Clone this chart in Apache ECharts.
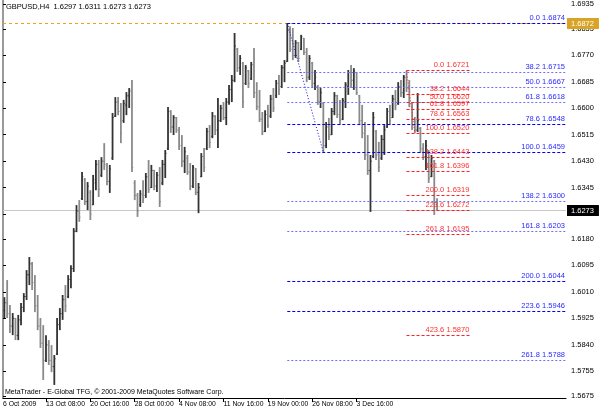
<!DOCTYPE html>
<html><head><meta charset="utf-8">
<script src="https://cdn.jsdelivr.net/npm/echarts@6/dist/echarts.min.js"></script>
<style>html,body{margin:0;padding:0;background:#fff}#c{width:600px;height:414px}</style>
</head><body><div id="c"></div>
<script>
const symbolName = 'GBPUSD,H4';
const copyright = 'MetaTrader - E-Global TFG, \u00a9 2001-2009 MetaQuotes Software Corp.';

const opens = [
1.5950,1.5975,1.5940,1.5900,1.5925,1.5870,1.5920,1.5960,1.5995,1.6065,
1.6100,1.6040,1.5965,1.5900,1.5845,1.5790,1.5840,1.5790,1.5770,1.5810,
1.5905,1.5940,1.5985,1.5995,1.6050,1.6085,1.6205,1.6270,1.6310,1.6370,
1.6300,1.6330,1.6290,1.6360,1.6420,1.6385,1.6430,1.6415,1.6365,1.6440,
1.6575,1.6620,1.6590,1.6560,1.6610,1.6640,1.6660,1.6360,1.6320,1.6290,
1.6320,1.6320,1.6380,1.6345,1.6400,1.6350,1.6385,1.6360,1.6420,1.6470,
1.6590,1.6540,1.6570,1.6530,1.6480,1.6430,1.6440,1.6395,1.6350,1.6405,
1.6330,1.6380,1.6445,1.6470,1.6525,1.6510,1.6575,1.6530,1.6560,1.6600,
1.6570,1.6620,1.6660,1.6690,1.6790,1.6730,1.6745,1.6680,1.6720,1.6695,
1.6740,1.6650,1.6605,1.6565,1.6525,1.6580,1.6575,1.6630,1.6640,1.6680,
1.6670,1.6730,1.6750,1.6850,1.6790,1.6770,1.6810,1.6790,1.6825,1.6780,
1.6700,1.6745,1.6680,1.6670,1.6620,1.6615,1.6480,1.6540,1.6515,1.6590,
1.6640,1.6580,1.6565,1.6620,1.6670,1.6715,1.6690,1.6715,1.6640,1.6560,
1.6520,1.6450,1.6400,1.6445,1.6525,1.6450,1.6440,1.6500,1.6540,1.6590,
1.6570,1.6630,1.6615,1.6670,1.6650,1.6700,1.6665,1.6615,1.6545,1.6530,
1.6535,1.6470,1.6445,1.6460,1.6380,1.6430,1.6297];
const highs = [
1.5993,1.6048,1.5968,1.5942,1.5926,1.5936,1.5974,1.6006,1.6080,1.6122,
1.6106,1.6064,1.6000,1.5926,1.5903,1.5871,1.5855,1.5839,1.5807,1.5926,
1.5958,1.6000,1.6032,1.6064,1.6096,1.6215,1.6289,1.6305,1.6395,1.6376,
1.6363,1.6337,1.6386,1.6434,1.6434,1.6443,1.6488,1.6424,1.6418,1.6585,
1.6636,1.6636,1.6617,1.6627,1.6652,1.6665,1.6691,1.6369,1.6328,1.6337,
1.6369,1.6392,1.6434,1.6418,1.6402,1.6395,1.6411,1.6434,1.6466,1.6604,
1.6594,1.6578,1.6572,1.6540,1.6514,1.6476,1.6450,1.6424,1.6418,1.6408,
1.6360,1.6456,1.6472,1.6537,1.6546,1.6588,1.6578,1.6633,1.6611,1.6620,
1.6633,1.6675,1.6707,1.6842,1.6794,1.6771,1.6749,1.6739,1.6723,1.6749,
1.6794,1.6684,1.6659,1.6588,1.6594,1.6611,1.6643,1.6665,1.6691,1.6707,
1.6739,1.6755,1.6874,1.6864,1.6858,1.6819,1.6813,1.6836,1.6826,1.6794,
1.6771,1.6749,1.6723,1.6675,1.6665,1.6620,1.6556,1.6569,1.6601,1.6652,
1.6643,1.6627,1.6633,1.6684,1.6723,1.6739,1.6729,1.6717,1.6643,1.6611,
1.6556,1.6514,1.6450,1.6588,1.6530,1.6492,1.6514,1.6546,1.6601,1.6611,
1.6643,1.6659,1.6684,1.6691,1.6707,1.6721,1.6691,1.6617,1.6572,1.6649,
1.6540,1.6488,1.6498,1.6466,1.6450,1.6434,1.6311];
const lows = [
1.5926,1.5926,1.5878,1.5871,1.5855,1.5855,1.5903,1.5945,1.5984,1.6032,
1.6016,1.5945,1.5887,1.5830,1.5727,1.5785,1.5775,1.5752,1.5711,1.5807,
1.5887,1.5920,1.5945,1.5990,1.6022,1.6074,1.6202,1.6235,1.6305,1.6289,
1.6273,1.6241,1.6289,1.6337,1.6315,1.6379,1.6402,1.6353,1.6328,1.6434,
1.6572,1.6578,1.6488,1.6553,1.6578,1.6601,1.6395,1.6305,1.6251,1.6283,
1.6296,1.6312,1.6328,1.6344,1.6337,1.6331,1.6283,1.6353,1.6376,1.6466,
1.6521,1.6514,1.6521,1.6466,1.6411,1.6392,1.6386,1.6337,1.6344,1.6321,
1.6263,1.6379,1.6395,1.6466,1.6472,1.6504,1.6514,1.6472,1.6556,1.6562,
1.6546,1.6611,1.6620,1.6684,1.6717,1.6707,1.6601,1.6675,1.6665,1.6691,
1.6633,1.6594,1.6556,1.6514,1.6524,1.6537,1.6569,1.6588,1.6633,1.6643,
1.6665,1.6684,1.6749,1.6781,1.6755,1.6762,1.6749,1.6787,1.6771,1.6684,
1.6691,1.6665,1.6659,1.6611,1.6601,1.6459,1.6472,1.6498,1.6514,1.6578,
1.6569,1.6546,1.6562,1.6601,1.6643,1.6665,1.6659,1.6643,1.6546,1.6504,
1.6434,1.6386,1.6267,1.6440,1.6434,1.6395,1.6434,1.6450,1.6537,1.6546,
1.6569,1.6594,1.6611,1.6636,1.6633,1.6652,1.6604,1.6530,1.6520,1.6524,
1.6456,1.6434,1.6402,1.6360,1.6379,1.6257,1.6273];
const closes = [
1.5975,1.5940,1.5900,1.5925,1.5870,1.5920,1.5960,1.5995,1.6065,1.6100,
1.6040,1.5965,1.5900,1.5845,1.5790,1.5840,1.5790,1.5770,1.5795,1.5905,
1.5940,1.5985,1.5965,1.6050,1.6085,1.6205,1.6270,1.6250,1.6380,1.6300,
1.6350,1.6260,1.6370,1.6420,1.6340,1.6430,1.6420,1.6365,1.6405,1.6570,
1.6620,1.6590,1.6520,1.6615,1.6640,1.6655,1.6410,1.6320,1.6270,1.6325,
1.6310,1.6380,1.6340,1.6400,1.6350,1.6385,1.6300,1.6420,1.6455,1.6590,
1.6540,1.6570,1.6530,1.6480,1.6430,1.6460,1.6395,1.6350,1.6410,1.6330,
1.6345,1.6445,1.6410,1.6525,1.6490,1.6575,1.6530,1.6560,1.6600,1.6570,
1.6620,1.6660,1.6690,1.6800,1.6730,1.6760,1.6620,1.6730,1.6680,1.6740,
1.6650,1.6605,1.6565,1.6525,1.6580,1.6545,1.6630,1.6600,1.6680,1.6660,
1.6730,1.6745,1.6850,1.6790,1.6770,1.6810,1.6760,1.6830,1.6780,1.6700,
1.6760,1.6680,1.6700,1.6620,1.6650,1.6480,1.6540,1.6510,1.6590,1.6640,
1.6580,1.6560,1.6625,1.6675,1.6715,1.6690,1.6720,1.6650,1.6560,1.6520,
1.6450,1.6400,1.6430,1.6570,1.6450,1.6410,1.6500,1.6530,1.6590,1.6560,
1.6630,1.6610,1.6670,1.6650,1.6700,1.6665,1.6615,1.6545,1.6530,1.6560,
1.6470,1.6445,1.6480,1.6375,1.6440,1.6297,1.6273];

const dateLabels = ['6 Oct 2009','13 Oct 08:00','20 Oct 16:00','28 Oct 00:00','4 Nov 08:00','11 Nov 16:00','19 Nov 00:00','26 Nov 08:00','3 Dec 16:00'];
const dateLabelBars = [0, 15, 31, 47, 63, 79, 95, 111, 127];
const priceTicks = [1.6935,1.6855,1.6770,1.6685,1.6600,1.6515,1.6430,1.6345,1.6260,1.6180,1.6095,1.6010,1.5925,1.5840,1.5755,1.5675];

const blueFibLevels = ['0.0','38.2','50.0','61.8','78.6','100.0','138.2','161.8','200.0','223.6','261.8'];
const blueFibPrices = [1.6874,1.6715,1.6667,1.6618,1.6548,1.6459,1.6300,1.6203,1.6044,1.5946,1.5788];
const blueFibFrom = {bar: 102, price: 1.6874};
const blueFibTo = {bar: 115, price: 1.6459};
const redFibLevels = ['0.0','38.2','50.0','61.8','78.6','100.0','138.2','161.8','200.0','223.6','261.8','423.6'];
const redFibPrices = [1.6721,1.6644,1.6620,1.6597,1.6563,1.6520,1.6443,1.6396,1.6319,1.6272,1.6195,1.5870];
const redFibFrom = {bar: 145, price: 1.6721};
const redFibTo = {bar: 148, price: 1.6520};
const hLinePrice = 1.6872;
const bidPrice = 1.6273;
const totalSlots = 203;
const yMin = 1.5669, yMax = 1.6948;

// ---- build ----
const FONT = 'Liberation Sans';
const FS = 7.5;
const FONTSTR = FS + 'px "' + FONT + '"';
const bars = opens.map((o, i) => [i, o, highs[i], lows[i], closes[i]]);
const dateLabelPos = dateLabelBars.map((b, k) => k === 0 ? 0 : b + 0.5);
const lightBlue = new Set(['38.2','50.0','61.8','138.2','161.8','261.8']);
const redEnd = 168.5;

const blueData = blueFibPrices.map((p, k) => [blueFibFrom.bar + 0.5, totalSlots, p, k]);
const redData = redFibPrices.map((p, k) => [redFibFrom.bar + 0.5, redEnd, p, k]);
const priceData = [[0, totalSlots, hLinePrice, 0], [0, totalSlots, bidPrice, 1]];

function crispY(y) { return Math.round(y - 0.5) + 0.5; }

function fibRenderer(levels, prices, styleFn, labelColor) {
  return function (params, api) {
    const k = api.value(3);
    const a = api.coord([api.value(0), api.value(2)]);
    const b = api.coord([api.value(1), api.value(2)]);
    const y = crispY(a[1]);
    const st = styleFn(levels[k]);
    return { type:'group', children:[
      { type:'line', shape:{x1:a[0], y1:y, x2:b[0], y2:y}, style:{stroke:st.color, lineWidth:1, lineDash:st.dash} },
      { type:'text', x:b[0] - 1, y:y - 1.5,
        style:{ text: levels[k] + ' ' + prices[k].toFixed(4), fill: labelColor, font: FONTSTR, align:'right', verticalAlign:'bottom' } }
    ]};
  };
}
const priceStyles = [
  { line:'#f0a020', dash:[3,3], box:'#d9a326' },
  { line:'#c8c8c8', dash:null, box:'#000000' }
];
const priceValues = [hLinePrice, bidPrice];

const last = bars[bars.length - 1];
const titleText = symbolName + '  ' + [last[1], last[2], last[3], last[4]].map(v => v.toFixed(4)).join(' ');

const chart = echarts.init(document.getElementById('c'), null, {renderer:'canvas'});
chart.setOption({
  animation: false,
  backgroundColor: '#ffffff',
  grid: { left: 3, right: 34, top: 0, bottom: 16, containLabel: false },
  xAxis: {
    type: 'value', min: 0, max: totalSlots,
    splitLine: { show:false },
    axisLine: { show:true, onZero:false, lineStyle:{ color:'#000', width:1 } },
    axisTick: { show:true, length:4, customValues: dateLabelPos.slice(1), lineStyle:{color:'#000'} },
    axisLabel: { show:true, customValues: dateLabelPos, align:'left', margin:3,
      fontSize:6.8, fontFamily:FONT, color:'#000', hideOverlap:false,
      formatter: v => { const k = dateLabelPos.findIndex(p => Math.abs(p - v) < 0.01); return k >= 0 ? dateLabels[k] : ''; } }
  },
  yAxis: [{
    type: 'value', position: 'right', min: yMin, max: yMax, scale: true,
    splitLine: { show:false },
    axisLine: { show:true, lineStyle:{ color:'#000', width:1 } },
    axisTick: { show:true, length:3, customValues: priceTicks, lineStyle:{color:'#000'} },
    axisLabel: { show:true, customValues: priceTicks, margin:5, fontSize:FS, fontFamily:FONT, color:'#000',
      formatter: v => v.toFixed(4) }
  }, {
    type: 'value', position: 'left', min: yMin, max: yMax, scale: true,
    splitLine: { show:false }, axisTick:{show:false}, axisLabel:{show:false},
    axisLine: { show:true, lineStyle:{ color:'#9a9a9a', width:2 } }
  }],
  series: [{
    type: 'custom', name: 'priceLines', data: priceData, encode: { x: [0, 1], y: 2 }, clip: false, z: 3,
    renderItem: function (params, api) {
      const k = api.value(3);
      const a = api.coord([api.value(0), api.value(2)]);
      const b = api.coord([api.value(1), api.value(2)]);
      const y = crispY(a[1]);
      const st = priceStyles[k];
      return { type:'group', children:[
        { type:'line', shape:{x1:a[0], y1:y, x2:b[0], y2:y}, style:{stroke:st.line, lineWidth:1, lineDash:st.dash} },
        { type:'text', x:b[0] + 1, y:y, z2: 10,
          style:{ text: priceValues[k].toFixed(4), fill:'#ffffff', font: FONTSTR, align:'left', verticalAlign:'middle',
            backgroundColor: st.box, padding:[2,5,1,4] } }
      ]};
    }
  }, {
    type: 'custom', name: 'bars', data: bars, encode: { x: 0, y: [2, 3] }, clip: true, z: 3,
    renderItem: function (params, api) {
      const v = api.value(0) + 0.5;
      const o = api.coord([v, api.value(1)]);
      const h = api.coord([v, api.value(2)]);
      const l = api.coord([v, api.value(3)]);
      const c = api.coord([v, api.value(4)]);
      const up = api.value(4) >= api.value(1);
      const col = up ? '#333333' : '#8a8a8a';
      const x = h[0];
      return { type:'group', children:[
        { type:'line', shape:{x1:x, y1:h[1], x2:x, y2:l[1]}, style:{stroke:col, lineWidth:1.8} },
        { type:'line', shape:{x1:x-1.2, y1:o[1], x2:x, y2:o[1]}, style:{stroke:col, lineWidth:1} },
        { type:'line', shape:{x1:x, y1:c[1], x2:x+1.2, y2:c[1]}, style:{stroke:col, lineWidth:1} }
      ]};
    }
  }, {
    type: 'custom', name: 'blueFib', data: blueData, encode: { x: [0, 1], y: 2 }, clip: false, z: 4,
    renderItem: fibRenderer(blueFibLevels, blueFibPrices,
      lvl => lightBlue.has(lvl) ? {color:'#7070ff', dash:[2,2]} : {color:'#0000ff', dash:[3,2]}, '#2a2aff')
  }, {
    type: 'custom', name: 'redFib', data: redData, encode: { x: [0, 1], y: 2 }, clip: false, z: 4,
    renderItem: fibRenderer(redFibLevels, redFibPrices, lvl => ({color:'#ff2020', dash:[3,2]}), '#ff3030')
  }, {
    type: 'line', name: 'trend', data: [], z: 4,
    markLine: { silent:true, animation:false, precision:4, symbol:['none','none'], label:{show:false}, data: [
      [{ coord:[blueFibFrom.bar + 0.5, blueFibFrom.price], lineStyle:{color:'#1010e0', type:[1,2], width:1} },
       { coord:[blueFibTo.bar + 0.5, blueFibTo.price] }],
      [{ coord:[redFibFrom.bar + 0.5, redFibFrom.price], lineStyle:{color:'#ff2020', type:[1,2], width:1} },
       { coord:[redFibTo.bar + 0.5, redFibTo.price] }]
    ] }
  }],
  graphic: [
    { type:'text', left: 6, top: 3, style:{ text: titleText, fill:'#000', font: FONTSTR } },
    { type:'text', left: 5, top: 389, style:{ text: copyright, fill:'#000', font: '7px "' + FONT + '"' } }
  ]
});
</script>
</body></html>
